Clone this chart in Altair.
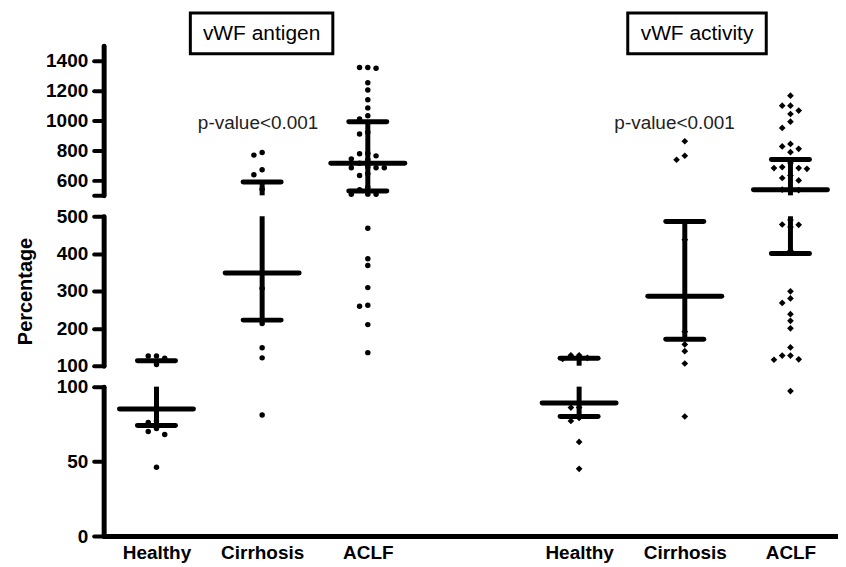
import altair as alt
import pandas as pd

# ---------------- data ----------------
groups = ["Healthy", "Cirrhosis", "ACLF"]
assays = ["vWF antigen", "vWF activity"]
positions_antigen = [1, 2, 3]
positions_activity = [5, 6, 7]

antigen_healthy = [126, 126, 120, 103, 77, 76, 72, 70, 68, 46]
antigen_cirrhosis = [787, 769, 671, 638, 540, 307, 213, 148, 121, 81]
antigen_aclf = [1355, 1350, 1355, 1253, 1205, 1140, 1085, 1033, 1010, 922, 911,
                782, 778, 764, 744, 738, 715, 690, 684, 684, 684, 644, 633, 555,
                538, 508, 507, 507, 468, 386, 368, 309, 262, 259, 210, 135]

activity_healthy = [128, 128, 121, 118, 86, 86, 79, 77, 63, 45]
activity_cirrhosis = [862, 765, 738, 437, 191, 157, 139, 106, 80]
activity_aclf = [1167, 1100, 1100, 1067, 1044, 993, 951, 844, 827, 811, 789, 716,
                 689, 682, 682, 677, 633, 616, 600, 540, 538, 535, 490, 478, 477,
                 471, 408, 299, 280, 268, 238, 220, 200, 149, 127, 127, 117, 116, 97]

mean_antigen = [85, 348, 715]
lower_antigen = [74, 222, 529]
upper_antigen = [113, 589, 993]
mean_activity = [89, 286, 538]
lower_activity = [80, 171, 400]
upper_activity = [120, 486, 740]

p_text = "p-value<0.001"

# ---------------- beeswarm lanes (computed) ----------------
def disp(v):
    if v < 100:
        return v * 1.5
    if v < 500:
        return 171.5 + (v - 100) * 0.375
    return 343.0 + (v - 500) * 0.15

def swarm(values, thr=6.5):
    placed, lanes = [], []
    for v in values:
        d = disp(v)
        for lane in [0, -1, 1, -2, 2, -3, 3]:
            if all(abs(d - q) >= thr for (l, q) in placed if l == lane):
                break
        placed.append((lane, d))
        lanes.append(lane)
    return lanes

LANE = 0.078
rows = []
series = [
    ("vWF antigen", 1, antigen_healthy), ("vWF antigen", 2, antigen_cirrhosis), ("vWF antigen", 3, antigen_aclf),
    ("vWF activity", 5, activity_healthy), ("vWF activity", 6, activity_cirrhosis), ("vWF activity", 7, activity_aclf),
]
for assay, pos, vals in series:
    vals_sorted = sorted(vals, reverse=True)
    for v, lane in zip(vals_sorted, swarm(vals_sorted)):
        rows.append({"assay": assay, "pos": pos, "value": v, "x": pos + lane * LANE})
points = pd.DataFrame(rows)

stat_rows = []
for pos, m, lo, hi in zip(positions_antigen, mean_antigen, lower_antigen, upper_antigen):
    stat_rows.append({"assay": "vWF antigen", "pos": pos, "mean": m, "lower": lo, "upper": hi})
for pos, m, lo, hi in zip(positions_activity, mean_activity, lower_activity, upper_activity):
    stat_rows.append({"assay": "vWF activity", "pos": pos, "mean": m, "lower": lo, "upper": hi})
stats = pd.DataFrame(stat_rows)
whisk = pd.concat([
    stats[["pos", "lower"]].rename(columns={"lower": "value"}),
    stats[["pos", "upper"]].rename(columns={"upper": "value"}),
], ignore_index=True)

FONT = "Liberation Sans"
XDOM = [0.5, 7.45]
W = 737
label_expr = "{1:'Healthy',2:'Cirrhosis',3:'ACLF',5:'Healthy',6:'Cirrhosis',7:'ACLF'}[datum.value]"


def panel(lo, hi, ticks, bottom=False, title=None, hide=None, annotate=False):
    yscale = alt.Scale(domain=[lo, hi], clamp=True, nice=False, zero=False)
    lexpr = "datum.value == %d ? '' : datum.label" % hide if hide is not None else "datum.label"
    yaxis = alt.Axis(values=ticks, labelExpr=lexpr, format="d", labelOverlap=False, grid=False,
                     domainWidth=5, domainColor="black",
                     domainCap="round", tickWidth=4, tickSize=10, tickColor="black", tickCap="round",
                     labelFont=FONT, labelFontWeight="bold", labelFontSize=19, labelColor="black",
                     labelPadding=6, title=title if title else "",
                     titleFont=FONT, titleFontWeight="bold", titleFontSize=20, titleColor="black",
                     titlePadding=21)
    if bottom:
        xaxis = alt.Axis(values=[1, 2, 3, 5, 6, 7], labelExpr=label_expr, grid=False, ticks=False,
                         labelOverlap=False,
                         domainWidth=5, domainColor="black", domainCap="round",
                         labelFont=FONT, labelFontWeight="bold", labelFontSize=19, labelColor="black",
                         labelPadding=7, title="")
    else:
        xaxis = None
    xs = alt.Scale(domain=XDOM, nice=False, zero=False)

    if lo == 0:
        f = "datum.value < %d" % hi
    else:
        f = "datum.value >= %d && datum.value < %d" % (lo, hi)

    vert = alt.Chart(stats).transform_filter(
        "datum.upper > %d && datum.lower < %d" % (lo, hi)
    ).mark_rule(strokeWidth=5, color="black").encode(
        x=alt.X("pos:Q", scale=xs, axis=xaxis),
        y=alt.Y("lower:Q", scale=yscale, axis=yaxis),
        y2="upper:Q",
    )
    meanbar = alt.Chart(stats).transform_filter(
        "datum.mean >= %d && datum.mean < %d" % (lo, hi)
    ).transform_calculate(a="datum.pos - 0.35", b="datum.pos + 0.35").mark_rule(
        strokeWidth=5, color="black", strokeCap="round"
    ).encode(x=alt.X("a:Q", scale=xs, axis=xaxis), x2="b:Q",
             y=alt.Y("mean:Q", scale=yscale, axis=yaxis))
    wbar = alt.Chart(whisk).transform_filter(f).transform_calculate(
        a="datum.pos - 0.18", b="datum.pos + 0.18"
    ).mark_rule(strokeWidth=5, color="black", strokeCap="round").encode(
        x=alt.X("a:Q", scale=xs, axis=xaxis), x2="b:Q",
        y=alt.Y("value:Q", scale=yscale, axis=yaxis))
    pts = alt.Chart(points).transform_filter(f).mark_point(
        filled=True, color="black", opacity=1
    ).encode(
        x=alt.X("x:Q", scale=xs, axis=xaxis),
        y=alt.Y("value:Q", scale=yscale, axis=yaxis),
        shape=alt.Shape("assay:N", scale=alt.Scale(domain=assays, range=["circle", "diamond"]), legend=None),
        size=alt.Size("assay:N", scale=alt.Scale(domain=assays, range=[30, 45]), legend=None),
    )
    layers = [vert, meanbar, wbar, pts]
    if annotate:
        one = pd.DataFrame({"k": [0]})
        for x0, x1, txt in [(87, 230, assays[0]), (526, 665, assays[1])]:
            layers.append(alt.Chart(one).mark_rect(fill="white", stroke="black", strokeWidth=3).encode(
                x=alt.value(x0), x2=alt.value(x1), y=alt.value(-33), y2=alt.value(8)))
            layers.append(alt.Chart(one).mark_text(font=FONT, fontSize=21, color="black",
                                                   align="center", baseline="middle").encode(
                x=alt.value((x0 + x1) / 2), y=alt.value(-12), text=alt.value(txt)))
        for xc in [155, 573]:
            layers.append(alt.Chart(one).mark_text(font=FONT, fontSize=19, color="#222",
                                                   align="center", baseline="middle").encode(
                x=alt.value(xc), y=alt.value(77), text=alt.value(p_text)))
    return alt.layer(*layers).properties(width=W, height=150)


top = panel(500, 1500, [500, 600, 800, 1000, 1200, 1400], hide=500, annotate=True)
mid = panel(100, 500, [100, 200, 300, 400, 500], title="Percentage")
bot = panel(0, 100, [0, 50, 100], bottom=True)

chart = alt.vconcat(top, mid, bot, spacing=21, bounds="flush").properties(
    padding={"left": 7, "top": 2, "right": 0, "bottom": 0},
    background="white",
).configure_view(stroke=None).configure_axis(labelOverlap=False)

chart.save("out.html", embed_options={"renderer": "svg", "actions": False})
